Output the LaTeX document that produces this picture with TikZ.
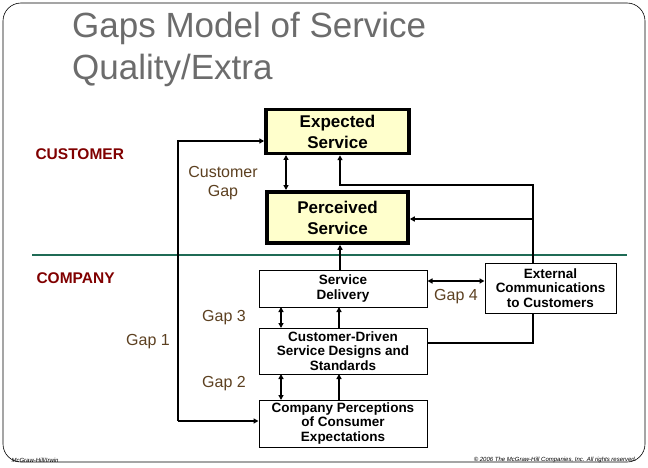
\documentclass[tikz,border=0pt]{standalone}
\usepackage{fontspec}
\setmainfont{Liberation Sans}
\usetikzlibrary{arrows.meta}
\definecolor{boxy}{HTML}{FFFFCC}
\definecolor{lab}{HTML}{800000}
\definecolor{gapc}{HTML}{5C4020}
\definecolor{sep}{HTML}{1F6B55}
\begin{document}
\begin{tikzpicture}[x=1pt,y=-1pt,
  big/.style={draw,line width=3.5pt,fill=boxy,font=\bfseries\fontsize{17}{21}\selectfont,align=center,inner sep=0pt},
  sm/.style={draw,line width=1pt,fill=white,font=\bfseries\fontsize{13.5}{14.5}\selectfont,align=center,inner sep=0pt},
  con/.style={line width=2pt},
  arr/.style={con,-{Triangle[length=5pt,width=5pt]}},
  darr/.style={con,{Triangle[length=5pt,width=5pt]}-{Triangle[length=5pt,width=5pt]}},
  gap/.style={text=gapc,font=\fontsize{16}{19}\selectfont,align=center},
  side/.style={text=lab,font=\bfseries\fontsize{15.5}{18}\selectfont,anchor=west}]
\useasboundingbox (0,0) rectangle (648,468);
\draw[line width=0.6pt,rounded corners=18pt] (3,3) rectangle (645,462);
\node[anchor=west,text=gray!85!black,font=\fontsize{35}{42}\selectfont,align=left,inner sep=0pt] (title) at (72,49) {Gaps Model of Service\\Quality/Extra};
\draw[sep,line width=1.2pt] (32,255) -- (627,255);
\node[side] (cust) at (32,154) {CUSTOMER};
\node[side] (comp) at (33,278) {COMPANY};
\node[big,minimum width=143pt,minimum height=44pt] (exp) at (337.5,131.5) {Expected\\Service};
\node[big,minimum width=141pt,minimum height=51pt] (per) at (337.5,217.5) {Perceived\\Service};
\node[sm,minimum width=168pt,minimum height=37pt] (sd) at (343,288.5) {Service\\Delivery};
\node[sm,minimum width=131pt,minimum height=50pt] (ext) at (550.5,288) {External\\Communications\\to Customers};
\node[sm,minimum width=168pt,minimum height=46pt] (cd) at (343,351) {Customer-Driven\\Service Designs and\\Standards};
\node[sm,minimum width=168pt,minimum height=47pt] (cp) at (343,423.5) {Company Perceptions\\of Consumer\\Expectations};
\node[gap] (cg) at (223,183) {Customer\\Gap};
\node[gap] (g3) at (224,318) {Gap 3};
\node[gap] (g1) at (148,342) {Gap 1};
\node[gap] (g2) at (224,384) {Gap 2};
\node[gap] (g4) at (456,297) {Gap 4};
\coordinate (l1) at (178,141);
\coordinate (l2) at (178,421);
\draw[arr] (l2) -- (cp.west |- l2);
\draw[arr] (l2) -- (l1) -- (exp.west |- l1);
\draw[darr] (286,155) -- (286,190);
\draw[arr] (sd.north -| 340,0) -- (per.south -| 340,0);
\coordinate (e1) at (533,185);
\coordinate (e2) at (340,185);
\draw[arr] (ext.north -| e1) -- (e1) -- (e2) -- (exp.south -| e2);
\draw[arr] (533,219) -- (per.east |- 0,219);
\draw[darr] (sd.east |- 0,281) -- (ext.west |- 0,281);
\draw[con] (cd.east |- 0,343) -- (533,343) -- (ext.south -| 533,0);
\draw[darr] (281,307) -- (281,328);
\draw[arr] (339,328) -- (339,307);
\draw[darr] (281,374) -- (281,400);
\draw[arr] (339,400) -- (339,374);
\node[font=\itshape\fontsize{6}{7}\selectfont,anchor=west] (f1) at (8,460) {McGraw-Hill/Irwin};
\node[font=\itshape\fontsize{6}{7}\selectfont,anchor=east] (f2) at (640,460) {© 2006 The McGraw-Hill Companies, Inc. All rights reserved.};
\end{tikzpicture}
\end{document}
